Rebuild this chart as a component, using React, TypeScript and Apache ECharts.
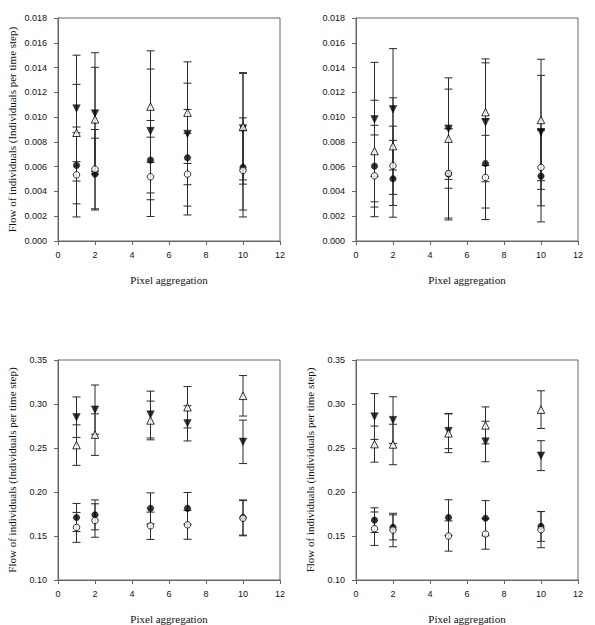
import React, { useEffect, useRef } from "react";
import * as echarts from "echarts";

const xs = [1, 2, 5, 7, 10];
const xTicks = [0, 2, 4, 6, 8, 10, 12];

// Panel A (top-left)
const filledCircleA = [0.0061, 0.0054, 0.00653, 0.00672, 0.00594];
const filledCircleErrA = [0.0031, 0.0029, 0.0032, 0.0039, 0.004];
const openCircleA = [0.00534, 0.0058, 0.00518, 0.0054, 0.0057];
const openCircleErrA = [0.0034, 0.0032, 0.0032, 0.0033, 0.0032];
const filledTriA = [0.0107, 0.0103, 0.00888, 0.00864, 0.00909];
const filledTriErrA = [0.0043, 0.0049, 0.005, 0.0041, 0.0045];
const openTriA = [0.00874, 0.00982, 0.01085, 0.01036, 0.00923];
const openTriErrA = [0.0039, 0.0042, 0.0045, 0.0041, 0.0043];

// Panel B (top-right)
const filledCircleB = [0.00604, 0.00502, 0.0054, 0.00626, 0.00524];
const filledCircleErrB = [0.0033, 0.0031, 0.0037, 0.0036, 0.0037];
const openCircleB = [0.00526, 0.00607, 0.00545, 0.00513, 0.00594];
const openCircleErrB = [0.0033, 0.0032, 0.0036, 0.0034, 0.0031];
const filledTriB = [0.00982, 0.01063, 0.00907, 0.00958, 0.00877];
const filledTriErrB = [0.0046, 0.0049, 0.0041, 0.0048, 0.0046];
const openTriB = [0.00726, 0.00766, 0.00826, 0.0104, 0.00977];
const openTriErrB = [0.0041, 0.0039, 0.004, 0.0043, 0.0049];

// Panel C (bottom-left)
const filledCircleC = [0.171, 0.174, 0.1814, 0.1814, 0.171];
const filledCircleErrC = [0.016, 0.017, 0.0176, 0.018, 0.02];
const openCircleC = [0.1598, 0.1676, 0.1616, 0.1627, 0.1702];
const openCircleErrC = [0.017, 0.019, 0.0155, 0.0164, 0.02];
const filledTriC = [0.285, 0.2936, 0.288, 0.278, 0.257];
const filledTriErrC = [0.023, 0.028, 0.0266, 0.02, 0.0247];
const openTriC = [0.2533, 0.2652, 0.2813, 0.2963, 0.3093];
const openTriErrC = [0.023, 0.0236, 0.022, 0.0235, 0.023];

// Panel D (bottom-right)
const filledCircleD = [0.168, 0.1598, 0.171, 0.1702, 0.1609];
const filledCircleErrD = [0.014, 0.0142, 0.0202, 0.02, 0.017];
const openCircleD = [0.1583, 0.1568, 0.15, 0.1523, 0.1572];
const openCircleErrD = [0.019, 0.019, 0.0172, 0.0173, 0.0205];
const filledTriD = [0.2858, 0.2817, 0.2693, 0.2574, 0.2413];
const filledTriErrD = [0.026, 0.0265, 0.02, 0.023, 0.017];
const openTriD = [0.2544, 0.254, 0.2667, 0.2757, 0.2936];
const openTriErrD = [0.0205, 0.023, 0.022, 0.021, 0.0214];

const xTitle = "Pixel aggregation";
const yTitleUpper = "Flow of individuals (Individuals per time step)";
const yTitleLower = "Flow of individuals (individuals per time step)";

type Panel = {
  fc: number[]; fcE: number[];
  oc: number[]; ocE: number[];
  ft: number[]; ftE: number[];
  ot: number[]; otE: number[];
};

const panels: Panel[] = [
  { fc: filledCircleA, fcE: filledCircleErrA, oc: openCircleA, ocE: openCircleErrA, ft: filledTriA, ftE: filledTriErrA, ot: openTriA, otE: openTriErrA },
  { fc: filledCircleB, fcE: filledCircleErrB, oc: openCircleB, ocE: openCircleErrB, ft: filledTriB, ftE: filledTriErrB, ot: openTriB, otE: openTriErrB },
  { fc: filledCircleC, fcE: filledCircleErrC, oc: openCircleC, ocE: openCircleErrC, ft: filledTriC, ftE: filledTriErrC, ot: openTriC, otE: openTriErrC },
  { fc: filledCircleD, fcE: filledCircleErrD, oc: openCircleD, ocE: openCircleErrD, ft: filledTriD, ftE: filledTriErrD, ot: openTriD, otE: openTriErrD },
];

const AXIS_COLOR = "#666";
const BAR_COLOR = "#2a2a2a";

function errSeries(idx: number, vals: number[], errs: number[]) {
  return {
    type: "custom",
    xAxisIndex: idx,
    yAxisIndex: idx,
    z: 2,
    encode: { x: 0, y: 1 },
    data: xs.map((x, i) => [x, vals[i], errs[i]]),
    renderItem: (params: any, api: any) => {
      const x = api.value(0);
      const y = api.value(1);
      const e = api.value(2);
      const top = api.coord([x, y + e]);
      const bot = api.coord([x, y - e]);
      const hw = 4;
      const style = { stroke: BAR_COLOR, lineWidth: 1, fill: null };
      return {
        type: "group",
        children: [
          { type: "line", shape: { x1: top[0], y1: top[1], x2: bot[0], y2: bot[1] }, style },
          { type: "line", shape: { x1: top[0] - hw, y1: top[1], x2: top[0] + hw, y2: top[1] }, style },
          { type: "line", shape: { x1: bot[0] - hw, y1: bot[1], x2: bot[0] + hw, y2: bot[1] }, style },
        ],
      };
    },
  };
}

function markerSeries(idx: number, vals: number[], symbol: string, filled: boolean, rotate: number, size: number) {
  return {
    type: "scatter",
    xAxisIndex: idx,
    yAxisIndex: idx,
    z: 5,
    symbol,
    symbolRotate: rotate,
    symbolSize: size,
    data: xs.map((x, i) => [x, vals[i]]),
    itemStyle: filled
      ? { color: "#000", borderColor: "#000", borderWidth: 0.5 }
      : { color: "#fff", borderColor: "#000", borderWidth: 1 },
  };
}

export default function App() {
  const ref = useRef<HTMLDivElement>(null);
  useEffect(() => {
    if (!ref.current) return;
    const chart = echarts.init(ref.current, undefined, { renderer: "svg" });
    const lefts = [58, 356, 58, 356];
    const tops = [18, 18, 360, 360];
    const grids = lefts.map((l, i) => ({
      left: l,
      top: tops[i],
      width: 222,
      height: 223,
      show: true,
      borderColor: AXIS_COLOR,
      borderWidth: 1,
      backgroundColor: "transparent",
    }));
    const labelStyle = { fontFamily: "Liberation Sans", fontSize: 9, color: "#111" };
    const xAxes = [0, 1, 2, 3].map((i) => ({
      type: "value",
      gridIndex: i,
      min: 0,
      max: 12,
      interval: 2,
      splitLine: { show: false },
      axisLine: { show: true, onZero: false, lineStyle: { color: AXIS_COLOR } },
      axisTick: { show: true, inside: false, length: 4, lineStyle: { color: AXIS_COLOR } },
      axisLabel: { ...labelStyle, margin: 9, formatter: (v: number) => (xTicks.includes(v) ? String(v) : "") },
      name: xTitle,
      nameLocation: "middle",
      nameGap: 33,
      nameTextStyle: { fontFamily: "Liberation Serif", fontSize: 11, color: "#111" },
    }));
    const yAxes = [0, 1, 2, 3].map((i) => {
      const upper = i < 2;
      const showName = i !== 1;
      return {
        type: "value",
        gridIndex: i,
        min: upper ? 0 : 0.1,
        max: upper ? 0.018 : 0.35,
        interval: upper ? 0.002 : 0.05,
        splitLine: { show: false },
        axisLine: { show: true, onZero: false, lineStyle: { color: AXIS_COLOR } },
        axisTick: { show: true, inside: false, length: 4, lineStyle: { color: AXIS_COLOR } },
        axisLabel: {
          ...labelStyle,
          margin: 11,
          formatter: (v: number) => (upper ? v.toFixed(3) : v.toFixed(2)),
        },
        name: showName ? (i === 3 ? yTitleLower : yTitleUpper) : "",
        nameLocation: "middle",
        nameGap: 41,
        nameRotate: 90,
        nameTextStyle: { fontFamily: "Liberation Serif", fontSize: 11, color: "#111" },
      };
    });
    const series: any[] = [];
    panels.forEach((p, i) => {
      series.push(errSeries(i, p.fc, p.fcE));
      series.push(errSeries(i, p.oc, p.ocE));
      series.push(errSeries(i, p.ft, p.ftE));
      series.push(errSeries(i, p.ot, p.otE));
      series.push(markerSeries(i, p.fc, "circle", true, 0, 6.5));
      series.push(markerSeries(i, p.oc, "circle", false, 0, 6.5));
      series.push(markerSeries(i, p.ft, "triangle", true, 180, 7.5));
      series.push(markerSeries(i, p.ot, "triangle", false, 0, 7.5));
    });
    chart.setOption({
      animation: false,
      backgroundColor: "#fff",
      grid: grids,
      xAxis: xAxes,
      yAxis: yAxes,
      series,
    });
    return () => chart.dispose();
  }, []);
  return (
    <div
      ref={ref}
      style={{ position: "fixed", left: 0, top: 0, width: 595, height: 625 }}
    />
  );
}
